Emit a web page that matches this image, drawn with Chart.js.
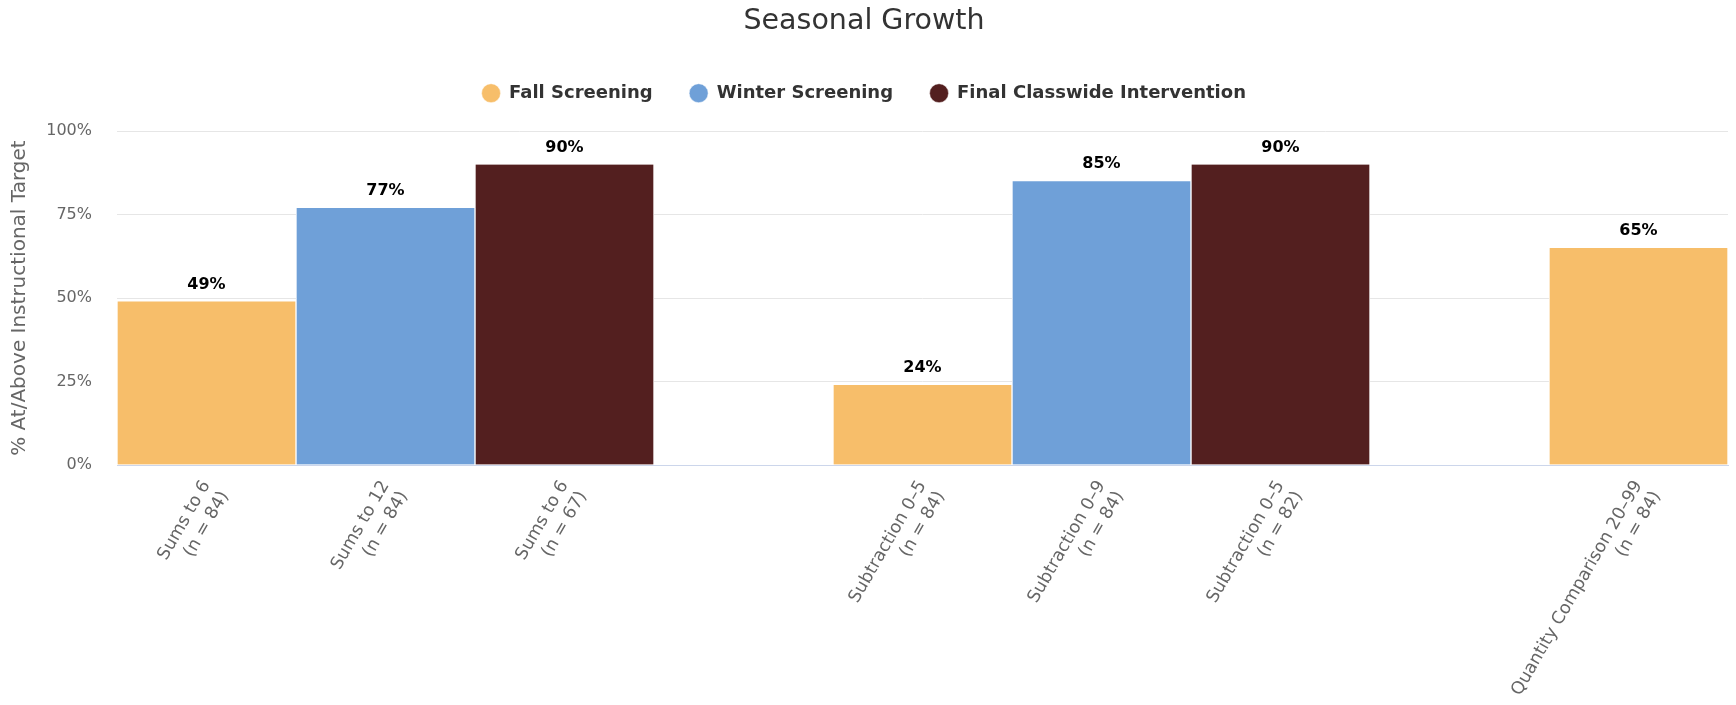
<!DOCTYPE html>
<html>
<head>
<meta charset="utf-8">
<script src="https://cdn.jsdelivr.net/npm/chart.js@4/dist/chart.umd.min.js"></script>
<style>
  html, body { margin: 0; padding: 0; background: #fff; }
  #wrap { width: 1736px; height: 705px; position: relative; }
</style>
</head>
<body>
<div id="wrap"><canvas id="c" width="1736" height="705"></canvas></div>
<script>
// ---- data ----
const categories = [
  ["Sums to 6", "(n = 84)"],
  ["Sums to 12", "(n = 84)"],
  ["Sums to 6", "(n = 67)"],
  "",
  ["Subtraction 0–5", "(n = 84)"],
  ["Subtraction 0–9", "(n = 84)"],
  ["Subtraction 0–5", "(n = 82)"],
  "",
  ["Quantity Comparison 20–99", "(n = 84)"]
];
const fallScreening   = [49, null, null, null, 24, null, null, null, 65];
const winterScreening = [null, 77, null, null, null, 85, null, null, null];
const finalClasswide  = [null, null, 90, null, null, null, 90, null, null];
const seriesNames = ["Fall Screening", "Winter Screening", "Final Classwide Intervention"];
const yTicks = [0, 25, 50, 75, 100];

const colors = ["#F7BE6A", "#6FA0D8", "#531F1F"];
const FONT = "'DejaVu Sans', sans-serif";

const dataLabelPlugin = {
  id: 'dataLabels',
  afterDatasetsDraw(chart) {
    const ctx = chart.ctx;
    ctx.save();
    ctx.font = "bold 16px " + FONT;
    ctx.fillStyle = "#000";
    ctx.textAlign = "center";
    ctx.textBaseline = "middle";
    chart.data.datasets.forEach((ds, i) => {
      const meta = chart.getDatasetMeta(i);
      if (meta.hidden) return;
      meta.data.forEach((el, j) => {
        const v = ds.data[j];
        if (v === null || v === undefined) return;
        ctx.fillText(v + "%", el.x, el.y - 17);
      });
    });
    ctx.restore();
  }
};

// keep a fixed gap between the legend and the plot area
const legendHeightPlugin = {
  id: 'legendHeight',
  beforeLayout(chart) {
    const lg = chart.legend;
    if (lg && !lg._fixedFit) {
      const orig = lg.fit.bind(lg);
      lg.fit = function () { orig(); this.height = 84; };
      lg._fixedFit = true;
    }
  }
};

const ctx = document.getElementById('c').getContext('2d');
new Chart(ctx, {
  type: 'bar',
  data: {
    labels: categories,
    datasets: [fallScreening, winterScreening, finalClasswide].map((d, i) => ({
      label: seriesNames[i],
      data: d,
      backgroundColor: colors[i],
      borderColor: "#ffffff",
      borderWidth: {left: 1, right: 1, top: 0, bottom: 0},
      borderSkipped: false,
      grouped: false,
      barPercentage: 1,
      categoryPercentage: 1
    }))
  },
  options: {
    responsive: false,
    animation: false,
    devicePixelRatio: 1,
    layout: { padding: { left: 0, right: 8, top: 0, bottom: 0 } },
    plugins: {
      title: {
        display: true,
        text: "Seasonal Growth",
        color: "#333333",
        font: { family: FONT, size: 28.5, weight: 'normal' },
        padding: { top: 4, bottom: 9 }
      },
      legend: {
        display: true,
        position: 'top',
        labels: {
          usePointStyle: true,
          pointStyle: 'circle',
          boxWidth: 18,
          boxHeight: 13.4,
          padding: 37,
          color: "#333333",
          font: { family: FONT, size: 18, weight: 'bold' }
        }
      },
      tooltip: { enabled: false }
    },
    scales: {
      x: {
        grid: { display: false, drawTicks: false },
        border: { display: true, color: "#CCD6EB", width: 1 },
        ticks: {
          autoSkip: false,
          minRotation: 60,
          maxRotation: 60,
          padding: 12,
          color: "#666666",
          font: { family: FONT, size: 17.5 }
        },
        afterFit(scale) { scale.height = 240; }
      },
      y: {
        min: 0,
        max: 100,
        afterBuildTicks(scale) { scale.ticks = yTicks.map(v => ({ value: v })); },
        grid: { color: "#E6E6E6", drawTicks: false },
        border: { display: false },
        ticks: {
          padding: 25,
          color: "#666666",
          font: { family: FONT, size: 16 },
          callback: v => v + "%"
        },
        title: {
          display: true,
          text: "% At/Above Instructional Target",
          color: "#666666",
          font: { family: FONT, size: 20 },
          padding: { top: 8, bottom: 0 }
        },
        afterFit(scale) { scale.width = 117; }
      }
    }
  },
  plugins: [dataLabelPlugin, legendHeightPlugin]
});
</script>
</body>
</html>
